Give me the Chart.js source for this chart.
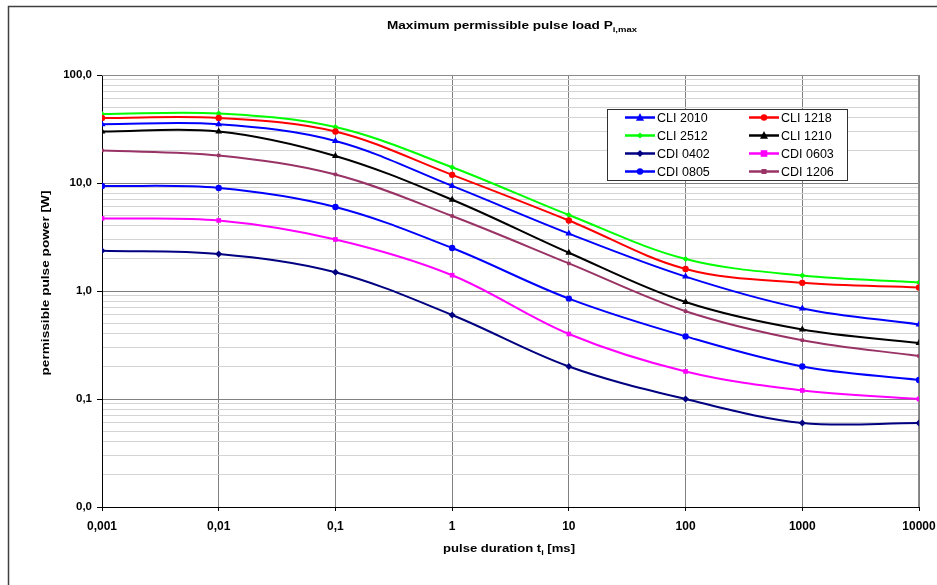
<!DOCTYPE html>
<html>
<head>
<meta charset="utf-8">
<title>Maximum permissible pulse load</title>
<script src="https://cdn.jsdelivr.net/npm/chart.js"></script>
<style>
  body { margin: 0; background: #fff; }
  #wrap { width: 937px; height: 585px; }
</style>
</head>
<body>
<div id="wrap"><canvas id="myChart" width="937" height="585"></canvas></div>
<script>
// pulse duration t_i [ms]
const durations = [0.001, 0.01, 0.1, 1, 10, 100, 1000, 10000];
const xTickLabels = ['0,001', '0,01', '0,1', '1', '10', '100', '1000', '10000'];

const yMajor = [0.01, 0.1, 1, 10, 100];
const yTickLabels = ['0,0', '0,1', '1,0', '10,0', '100,0'];

// permissible pulse power [W]
const cli2010 = [35, 35, 24.5, 9.4, 3.4, 1.36, 0.69, 0.49];
const cli1218 = [40, 40, 30, 11.9, 4.5, 1.6, 1.19, 1.08];
const cli2512 = [43.5, 44, 33, 14, 5.05, 1.98, 1.39, 1.2];
const cli1210 = [30, 30, 17.8, 7, 2.26, 0.79, 0.44, 0.33];
const cdi0402 = [2.36, 2.2, 1.49, 0.6, 0.2, 0.1, 0.06, 0.06];
const cdi0603 = [4.7, 4.5, 3, 1.4, 0.4, 0.18, 0.12, 0.1];
const cdi0805 = [9.4, 9, 6, 2.5, 0.85, 0.38, 0.2, 0.15];
const cdi1206 = [20, 18, 12, 4.95, 1.8, 0.65, 0.35, 0.25];

const seriesNames = ['CLI 2010', 'CLI 1218', 'CLI 2512', 'CLI 1210', 'CDI 0402', 'CDI 0603', 'CDI 0805', 'CDI 1206'];
const seriesValues = [cli2010, cli1218, cli2512, cli1210, cdi0402, cdi0603, cdi0805, cdi1206];
const seriesColors = ['#0000ff', '#ff0000', '#00ff00', '#000000', '#000080', '#ff00ff', '#0000ff', '#993366'];
const seriesMarkers = ['triangle', 'circle', 'rectRot', 'triangle', 'rectRot', 'rect', 'circle', 'rect'];
const seriesMarkerSize = [4, 3.2, 3, 4, 3.5, 3.3, 3.2, 2.5];

const boldFont = "'Liberation Sans', Arial, sans-serif";
const plainFont = "'Liberation Sans', Arial, sans-serif";

function drawMarker(ctx, style, r, x, y, color) {
    ctx.save();
    ctx.fillStyle = color;
    ctx.beginPath();
    if (style == 'circle') {
        ctx.arc(x, y, r, 0, Math.PI * 2);
    } else if (style == 'triangle') {
        ctx.moveTo(x, y - r * 1.1);
        ctx.lineTo(x + r, y + r * 0.8);
        ctx.lineTo(x - r, y + r * 0.8);
        ctx.closePath();
    } else if (style == 'rectRot') {
        ctx.moveTo(x, y - r);
        ctx.lineTo(x + r, y);
        ctx.lineTo(x, y + r);
        ctx.lineTo(x - r, y);
        ctx.closePath();
    } else {
        ctx.rect(x - r, y - r, r * 2, r * 2);
    }
    ctx.fill();
    ctx.restore();
}

// bold text with optional subscript parts, stretched to a given width
function drawParts(ctx, parts, cx, cy, size, targetW) {
    let total = 0;
    parts.forEach(function(p) {
        ctx.font = 'bold ' + (p[1] ? size * 0.7 : size) + 'px ' + boldFont;
        total += ctx.measureText(p[0]).width;
    });
    const sx = targetW ? targetW / total : 1;
    ctx.save();
    ctx.translate(cx, cy);
    ctx.scale(sx, 1);
    let x = -total / 2;
    ctx.textBaseline = 'middle';
    ctx.textAlign = 'left';
    ctx.fillStyle = '#000';
    parts.forEach(function(p) {
        ctx.font = 'bold ' + (p[1] ? size * 0.7 : size) + 'px ' + boldFont;
        ctx.fillText(p[0], x, p[1] ? size * 0.35 : 0);
        x += ctx.measureText(p[0]).width;
    });
    ctx.restore();
}

const decorPlugin = {
    id: 'decor',
    beforeDraw: function(chart) {
        const ctx = chart.ctx;
        ctx.save();
        ctx.fillStyle = '#fff';
        ctx.fillRect(0, 0, chart.width, chart.height);
        ctx.strokeStyle = '#404040';
        ctx.lineWidth = 1.5;
        ctx.beginPath();
        ctx.moveTo(8.5, chart.height);
        ctx.lineTo(8.5, 6.5);
        ctx.lineTo(chart.width, 6.5);
        ctx.stroke();
        ctx.restore();
    },
    beforeDatasetsDraw: function(chart) {
        const a = chart.chartArea;
        const ctx = chart.ctx;
        ctx.save();
        ctx.strokeStyle = '#8c8c8c';
        ctx.lineWidth = 1;
        ctx.beginPath();
        ctx.moveTo(a.left, a.top + 0.5);
        ctx.lineTo(a.right - 0.5, a.top + 0.5);
        ctx.lineTo(a.right - 0.5, a.bottom);
        ctx.stroke();
        ctx.restore();
    },
    afterDraw: function(chart) {
        const ctx = chart.ctx;
        const a = chart.chartArea;
        // title
        drawParts(ctx, [['Maximum permissible pulse load P', false], ['i,max', true]], 512, 26, 11, 250);
        // x title
        drawParts(ctx, [['pulse duration t', false], ['i', true], [' [ms]', false]], 509, 549, 11.5, 132);
        // y title
        ctx.save();
        ctx.translate(46, 283);
        ctx.rotate(-Math.PI / 2);
        drawParts(ctx, [['permissible pulse power [W]', false]], 0, 0, 11.5, 185);
        ctx.restore();

        // legend
        ctx.save();
        const bx = 607, by = 109, bw = 240, bh = 71;
        ctx.fillStyle = '#fff';
        ctx.fillRect(bx, by, bw, bh);
        ctx.strokeStyle = '#303030';
        ctx.lineWidth = 1;
        ctx.strokeRect(bx + 0.5, by + 0.5, bw, bh);
        chart.data.datasets.forEach(function(ds, i) {
            const col = i % 2;
            const row = Math.floor(i / 2);
            const lx = col == 0 ? 625 : 749;
            const ly = 117.5 + row * 18;
            ctx.strokeStyle = ds.borderColor;
            ctx.lineWidth = 2.5;
            ctx.beginPath();
            ctx.moveTo(lx, ly);
            ctx.lineTo(lx + 30, ly);
            ctx.stroke();
            drawMarker(ctx, ds.pointStyle, ds.pointRadius, lx + 15, ly, ds.borderColor);
            ctx.fillStyle = '#000';
            ctx.font = '12.5px ' + plainFont;
            ctx.textAlign = 'left';
            ctx.textBaseline = 'middle';
            ctx.fillText(ds.label, lx + 32, ly + 1);
        });
        ctx.restore();
    }
};

const datasets = seriesNames.map(function(name, i) {
    return {
        label: name,
        data: durations.map(function(t, j) { return { x: t, y: seriesValues[i][j] }; }),
        borderColor: seriesColors[i],
        backgroundColor: seriesColors[i],
        borderWidth: 2,
        pointStyle: seriesMarkers[i],
        pointRadius: seriesMarkerSize[i],
        pointBorderWidth: 0,
        tension: 0.35,
        fill: false
    };
});

function isMajorY(v) {
    return yMajor.some(function(m) { return Math.abs(m - v) / m < 1e-6; });
}

const config = {
    type: 'line',
    data: { datasets: datasets },
    plugins: [decorPlugin],
    options: {
        responsive: false,
        animation: false,
        layout: { padding: { left: 0, top: 75, right: 18, bottom: 0 } },
        plugins: {
            legend: { display: false },
            title: { display: false },
            tooltip: { enabled: false }
        },
        scales: {
            x: {
                type: 'logarithmic',
                min: 0.001,
                max: 10000,
                afterBuildTicks: function(scale) {
                    scale.ticks = durations.map(function(v) { return { value: v }; });
                },
                afterFit: function(scale) {
                    scale.height = 78;
                    scale.paddingRight = 0;
                    scale.paddingLeft = 0;
                },
                ticks: {
                    autoSkip: false,
                    maxRotation: 0,
                    padding: 8,
                    color: '#000',
                    font: { family: boldFont, size: 12, weight: 'bold' },
                    callback: function(v) {
                        const k = durations.indexOf(v);
                        return k >= 0 ? xTickLabels[k] : '';
                    }
                },
                grid: { color: '#808080', tickLength: 4, tickColor: '#000' },
                border: { color: '#000', width: 1 }
            },
            y: {
                type: 'logarithmic',
                min: 0.01,
                max: 100,
                afterBuildTicks: function(scale) {
                    const t = [];
                    for (let d = 0; d < yMajor.length - 1; d++) {
                        for (let m = 1; m < 10; m++) {
                            t.push({ value: yMajor[d] * m });
                        }
                    }
                    t.push({ value: yMajor[yMajor.length - 1] });
                    scale.ticks = t;
                },
                afterFit: function(scale) { scale.width = 102; },
                ticks: {
                    autoSkip: false,
                    padding: 5,
                    color: '#000',
                    font: { family: boldFont, size: 11.5, weight: 'bold' },
                    callback: function(v) {
                        for (let k = 0; k < yMajor.length; k++) {
                            if (Math.abs(yMajor[k] - v) / yMajor[k] < 1e-6) return yTickLabels[k];
                        }
                        return '';
                    }
                },
                grid: {
                    color: function(c) { return isMajorY(c.tick.value) ? '#808080' : '#d4d4d4'; },
                    tickColor: function(c) { return isMajorY(c.tick.value) ? '#000' : 'rgba(0,0,0,0)'; },
                    tickLength: 5
                },
                border: { color: '#000', width: 1 }
            }
        }
    }
};

const myChart = new Chart(document.getElementById('myChart'), config);
</script>
</body>
</html>
